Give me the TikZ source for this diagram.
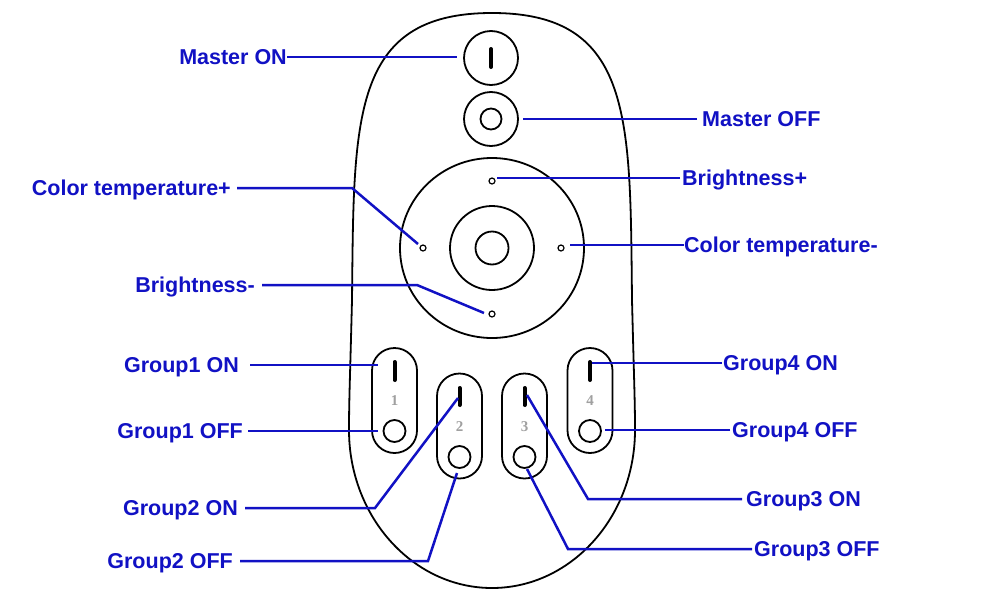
\documentclass[tikz,border=0pt]{standalone}
\usepackage{fontspec}
\setmainfont{Liberation Sans}
\newfontfamily\numfont{Liberation Serif}
\definecolor{wireblue}{RGB}{17,17,196}
\definecolor{numgray}{RGB}{160,160,160}
\begin{document}
\begin{tikzpicture}[x=1pt,y=-1pt,
  wire/.style={draw=wireblue,line width=2.5pt},
  outline/.style={draw=black,line width=1.8pt},
  btn/.style={outline,circle,inner sep=0pt,minimum size=#1},
  dot/.style={draw=black,line width=1.2pt,circle,inner sep=0pt,minimum size=6pt},
  bar/.style={draw=black,line width=4pt,line cap=round},
  pill/.style={outline,rectangle,rounded corners=22.5pt,inner sep=0pt,minimum width=45pt,minimum height=105pt},
  lbl/.style={text=wireblue,font=\fontsize{21.5}{24}\bfseries,inner sep=0pt,text height=15.4pt,text depth=0pt},
  num/.style={text=numgray,font=\numfont\fontsize{15}{16}\bfseries,inner sep=0pt}
]
\useasboundingbox (0,0) rectangle (1000,597);
\fill[white] (0,0) rectangle (1000,597);

% body
\draw[outline] (492,13) .. controls (350,13) and (354,120) .. (352,300)
  .. controls (350,380) and (349,400) .. (349,430)
  .. controls (349,517) and (413,588) .. (492,588)
  .. controls (571,588) and (635,517) .. (635,430)
  .. controls (635,400) and (634,380) .. (632,300)
  .. controls (630,120) and (634,13) .. (492,13) -- cycle;

% master buttons
\node[btn=54pt] (mon) at (491,58) {};
\draw[bar] (491,49) -- (491,67);
\node[btn=54pt] (moff) at (491,119) {};
\node[btn=21pt] (moffi) at (491,119) {};

% dial
\draw[outline] (492,248) ellipse [x radius=92, y radius=90];
\node[btn=84pt] (ring) at (492,248) {};
\node[btn=33pt] (okb) at (492,248) {};
\node[dot] (dt) at (492,181) {};
\node[dot] (dl) at (423,248) {};
\node[dot] (dr) at (561,248) {};
\node[dot] (db) at (492,314) {};

% group buttons
\node[pill] (g1) at (394.5,400.5) {};
\node[pill] (g2) at (459.5,426) {};
\node[pill] (g3) at (524.5,426) {};
\node[pill] (g4) at (590,400.5) {};
\draw[bar] (394.5,362) -- (394.5,380);
\draw[bar] (459.5,388) -- (459.5,405);
\draw[bar] (524.5,388) -- (524.5,405);
\draw[bar] (590,362) -- (590,380);
\node[num] (n1) at (394.5,401) {1};
\node[num] (n2) at (459.5,427) {2};
\node[num] (n3) at (524.5,427) {3};
\node[num] (n4) at (590,401) {4};
\node[btn=22pt] (g1c) at (394.5,431) {};
\node[btn=22pt] (g2c) at (459.5,457) {};
\node[btn=22pt] (g3c) at (524.5,457) {};
\node[btn=22pt] (g4c) at (590,431) {};

% labels
\node[lbl,anchor=east] (lmon) at (287,57) {Master ON};
\node[lbl,anchor=east] (lctp) at (231,188) {Color temperature+};
\node[lbl,anchor=east] (lbm) at (255,285) {Brightness-};
\node[lbl,anchor=east] (lg1on) at (239,365) {Group1 ON};
\node[lbl,anchor=east] (lg1off) at (243,431) {Group1 OFF};
\node[lbl,anchor=east] (lg2on) at (238,508) {Group2 ON};
\node[lbl,anchor=east] (lg2off) at (233,561) {Group2 OFF};
\node[lbl,anchor=west] (lmoff) at (702,119) {Master OFF};
\node[lbl,anchor=west] (lbp) at (682,178) {Brightness+};
\node[lbl,anchor=west] (lctm) at (684,245) {Color temperature-};
\node[lbl,anchor=west] (lg4on) at (723,363) {Group4 ON};
\node[lbl,anchor=west] (lg4off) at (732,430) {Group4 OFF};
\node[lbl,anchor=west] (lg3on) at (746,499) {Group3 ON};
\node[lbl,anchor=west] (lg3off) at (754,549) {Group3 OFF};

% connector ends and bends
\coordinate (emon) at (457,57);
\coordinate (bctp) at (352,188);
\coordinate (ectp) at (418,244);
\coordinate (bbm) at (417,285);
\coordinate (ebm) at (484,313);
\coordinate (eg1on) at (378,365);
\coordinate (eg1off) at (378,431);
\coordinate (bg2on) at (375,508);
\coordinate (eg2on) at (458,398);
\coordinate (bg2off) at (428,561);
\coordinate (eg2off) at (457,473);
\coordinate (emoff) at (523,119);
\coordinate (ebp) at (497,178);
\coordinate (ectm) at (570,245);
\coordinate (eg4on) at (592,363);
\coordinate (eg4off) at (605,430);
\coordinate (eg3on) at (527,395);
\coordinate (bg3on) at (588,499);
\coordinate (eg3off) at (527,469);
\coordinate (bg3off) at (568,549);

% connectors
\draw[wire] (lmon.east) -- (emon);
\draw[wire] ([xshift=6pt]lctp.east) -- (bctp) -- (ectp);
\draw[wire] ([xshift=7pt]lbm.east) -- (bbm) -- (ebm);
\draw[wire] ([xshift=11pt]lg1on.east) -- (eg1on);
\draw[wire] ([xshift=5pt]lg1off.east) -- (eg1off);
\draw[wire] ([xshift=7pt]lg2on.east) -- (bg2on) -- (eg2on);
\draw[wire] ([xshift=7pt]lg2off.east) -- (bg2off) -- (eg2off);
\draw[wire] ([xshift=-5pt]lmoff.west) -- (emoff);
\draw[wire] ([xshift=-2pt]lbp.west) -- (ebp);
\draw[wire] (lctm.west) -- (ectm);
\draw[wire] ([xshift=-1pt]lg4on.west) -- (eg4on);
\draw[wire] ([xshift=-2pt]lg4off.west) -- (eg4off);
\draw[wire] ([xshift=-4pt]lg3on.west) -- (bg3on) -- (eg3on);
\draw[wire] ([xshift=-2pt]lg3off.west) -- (bg3off) -- (eg3off);
\end{tikzpicture}
\end{document}
